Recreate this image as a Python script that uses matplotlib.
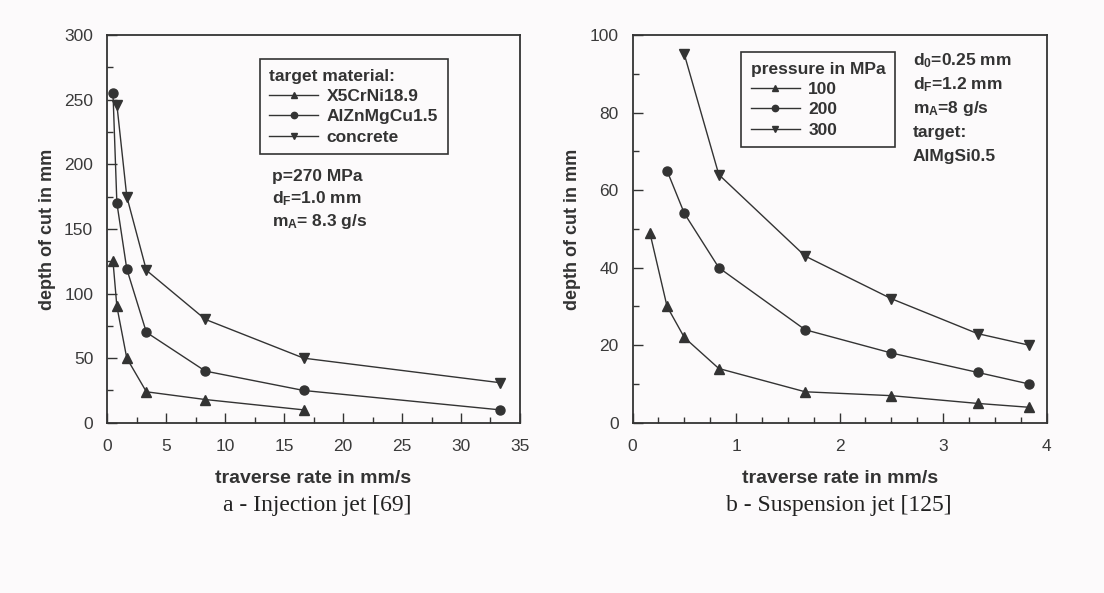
import matplotlib
matplotlib.use("Agg")
import matplotlib.pyplot as plt
from matplotlib.ticker import MultipleLocator

plt.rcParams["font.family"] = ["Liberation Sans", "DejaVu Sans"]
plt.rcParams["mathtext.fontset"] = "custom"
plt.rcParams["mathtext.rm"] = "Liberation Sans:bold"
plt.rcParams["mathtext.it"] = "Liberation Sans:bold"
plt.rcParams["mathtext.bf"] = "Liberation Sans:bold"

# ---------------------------------------------------------------------------
# Data
# ---------------------------------------------------------------------------

# a - injection jet
inj_steel_x = [0.5, 0.83, 1.67, 3.33, 8.33, 16.67]
inj_steel_y = [125, 90, 50, 24, 18, 10]
inj_alu_x = [0.5, 0.83, 1.67, 3.33, 8.33, 16.67, 33.33]
inj_alu_y = [255, 170, 119, 70, 40, 25, 10]
inj_conc_x = [0.83, 1.67, 3.33, 8.33, 16.67, 33.33]
inj_conc_y = [246, 175, 118, 80, 50, 31]
inj_labels = ["X5CrNi18.9", "AlZnMgCu1.5", "concrete"]

# b - suspension jet
sus_100_x = [0.167, 0.333, 0.5, 0.833, 1.667, 2.5, 3.333, 3.833]
sus_100_y = [49, 30, 22, 14, 8, 7, 5, 4]
sus_200_x = [0.333, 0.5, 0.833, 1.667, 2.5, 3.333, 3.833]
sus_200_y = [65, 54, 40, 24, 18, 13, 10]
sus_300_x = [0.5, 0.833, 1.667, 2.5, 3.333, 3.833]
sus_300_y = [95, 64, 43, 32, 23, 20]
sus_labels = ["100", "200", "300"]

INK = "#333333"
BG = "#fcfafb"
MARKERS = ["^", "o", "v"]


def style_axes(ax, xmax, xmaj, xmin, ymax, ymaj, ymin):
    ax.set_xlim(0, xmax)
    ax.set_ylim(0, ymax)
    ax.xaxis.set_major_locator(MultipleLocator(xmaj))
    ax.xaxis.set_minor_locator(MultipleLocator(xmin))
    ax.yaxis.set_major_locator(MultipleLocator(ymaj))
    ax.yaxis.set_minor_locator(MultipleLocator(ymin))
    ax.tick_params(which="both", direction="in", color=INK, width=1.0,
                   labelsize=12.5, labelcolor="#3a3a3a")
    ax.tick_params(axis="x", which="both", pad=12)
    ax.tick_params(axis="y", which="both", pad=10)
    ax.tick_params(which="major", length=7)
    ax.tick_params(which="minor", length=4)
    for s in ax.spines.values():
        s.set_color(INK)
        s.set_linewidth(1.3)
    ax.set_facecolor(BG)
    ax.set_xlabel("traverse rate in mm/s", fontsize=14, fontweight="bold",
                  color=INK, labelpad=11)
    ax.set_ylabel("depth of cut in mm", fontsize=13, fontweight="bold",
                  color=INK, labelpad=6)


def draw_series(ax, series, labels):
    for (x, y), m, lab in zip(series, MARKERS, labels):
        ax.plot(x, y, color=INK, lw=1.0, marker=m, ms=6.5, mfc=INK,
                mec=INK, label=lab)


def add_legend(ax, anchor, title):
    leg = ax.legend(loc="upper left", bbox_to_anchor=anchor, borderaxespad=0,
                    title=title, alignment="left",
                    frameon=True, fancybox=False, edgecolor=INK,
                    facecolor=BG, framealpha=1, handlelength=2.8,
                    handletextpad=0.5, markerscale=0.7, borderpad=0.55,
                    labelspacing=0.3,
                    prop={"size": 12.5, "weight": "bold"},
                    title_fontproperties={"size": 12.5, "weight": "bold"})
    for t in leg.get_texts() + [leg.get_title()]:
        t.set_color(INK)
    leg.get_frame().set_linewidth(1.2)
    return leg


fig = plt.figure(figsize=(11.04, 5.93), dpi=100, facecolor=BG)
ax1 = fig.add_axes([0.097, 0.287, 0.374, 0.654])
ax2 = fig.add_axes([0.573, 0.287, 0.375, 0.654])

# -- a: injection jet --------------------------------------------------------
draw_series(ax1, [(inj_steel_x, inj_steel_y), (inj_alu_x, inj_alu_y),
                  (inj_conc_x, inj_conc_y)], inj_labels)
style_axes(ax1, 35, 5, 2.5, 300, 50, 25)
add_legend(ax1, (0.370, 0.938), "target material:")

for i, s in enumerate(["p=270 MPa", r"d$_\mathrm{F}$=1.0 mm",
                       r"m$_\mathrm{A}$= 8.3 g/s"]):
    ax1.text(0.40, 0.635 - i * 0.058, s, transform=ax1.transAxes,
             fontsize=12.5, fontweight="bold", color=INK, va="center")

fig.text(0.287, 0.148, "a - Injection jet [69]", ha="center", va="center",
         fontsize=17, family="Liberation Serif", color="#222222")

# -- b: suspension jet -------------------------------------------------------
draw_series(ax2, [(sus_100_x, sus_100_y), (sus_200_x, sus_200_y),
                  (sus_300_x, sus_300_y)], sus_labels)
style_axes(ax2, 4, 1, 0.25, 100, 20, 10)
add_legend(ax2, (0.263, 0.956), "pressure in MPa")

for i, s in enumerate([r"d$_\mathrm{0}$=0.25 mm", r"d$_\mathrm{F}$=1.2 mm",
                       r"m$_\mathrm{A}$=8 g/s", "target:", "AlMgSi0.5"]):
    ax2.text(0.677, 0.935 - i * 0.062, s, transform=ax2.transAxes,
             fontsize=12.5, fontweight="bold", color=INK, va="center")

fig.text(0.760, 0.148, "b - Suspension jet [125]", ha="center", va="center",
         fontsize=17, family="Liberation Serif", color="#222222")

fig.savefig("out.png", dpi=100, facecolor=BG)
